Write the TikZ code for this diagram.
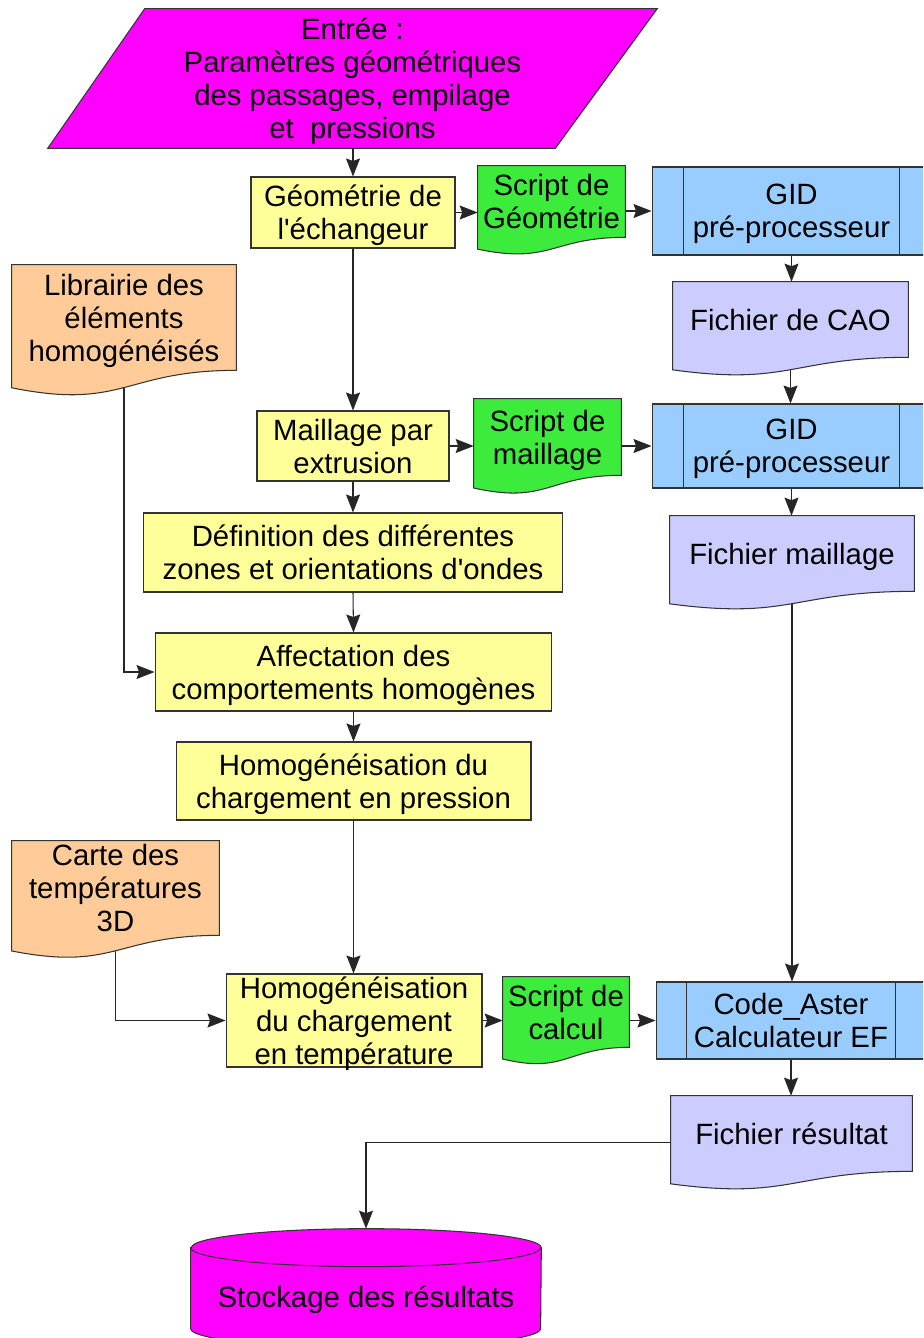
\documentclass[tikz,border=0pt]{standalone}
\usepackage{fontspec}
\setmainfont{Liberation Sans}
\usetikzlibrary{arrows.meta, calc, backgrounds}
\definecolor{inmagenta}{RGB}{255, 0, 255}
\definecolor{procyellow}{RGB}{255, 255, 153}
\definecolor{scriptgreen}{RGB}{61, 235, 61}
\definecolor{toolblue}{RGB}{153, 204, 255}
\definecolor{filelilac}{RGB}{204, 204, 255}
\definecolor{dataorange}{RGB}{255, 204, 153}

\tikzset{
  frame/.style={draw=black!80, line width=0.6pt},
  box/.style={align=center, inner sep=0pt},
  lowbox/.style={box, text depth=-2.4pt},
  proc/.style={frame, fill=procyellow, lowbox},
  doc/.style={lowbox},
  tool/.style={frame, fill=toolblue, lowbox},
  flow/.style={draw=black!85, line width=0.6pt, -{Stealth[length=3.6mm, width=2.8mm, inset=0.5mm]}},
}

\newcommand{\docframe}[2]{%
  \path[frame, fill=#2] let \p1=(#1.south west), \p2=(#1.north east), \n1={\y2-\y1} in
    (\x1,\y2) -- (\x2,\y2) -- (\x2,\y1)
    .. controls ({(\x1+\x2)/2},\y1) and ({(\x1+\x2)/2},{\y1-0.38*\n1}) ..
    coordinate[pos=0.5] (#1-b) (\x1,{\y1-0.165*\n1}) -- cycle;}
\newcommand{\sidelines}[2]{%
  \draw[frame] ([xshift=#2]#1.north west) -- ([xshift=#2]#1.south west)
    ([xshift=-#2]#1.north east) -- ([xshift=-#2]#1.south east);}

\begin{document}
\begin{tikzpicture}[x=0.02cm, y=-0.02cm, font=\fontsize{16.7}{18.8}\selectfont]
    \useasboundingbox (0,0) rectangle (923,1338);
    \clip (0,0) rectangle (923,1338);

    \node[doc, minimum width=12.18cm, minimum height=2.78cm] (entree) at (352.5,78.5)
        {Entrée :\\Paramètres géométriques\\des passages, empilage\\et~ pressions};

    \node[proc, minimum width=4.08cm, minimum height=1.42cm] (geo) at (353,212.5) {Géométrie de\\l\textquotesingle échangeur};
    \node[doc, minimum width=2.94cm, minimum height=1.42cm] (sgeo) at (551.5,201.5) {Script de\\Géométrie};
    \node[tool, minimum width=5.58cm, minimum height=1.76cm] (gid1) at (791.5,211) {GID\\pré-processeur};
    \node[doc, minimum width=4.70cm, minimum height=1.50cm] (cao) at (790.5,319.5) {Fichier de CAO};
    \node[doc, minimum width=4.48cm, minimum height=2.10cm] (lib) at (124,317.5) {Librairie des\\éléments\\homogénéisés};

    \node[proc, minimum width=3.84cm, minimum height=1.40cm] (mail) at (353,446) {Maillage par\\extrusion};
    \node[doc, minimum width=2.94cm, minimum height=1.52cm] (smail) at (547.5,437) {Script de\\maillage};
    \node[tool, minimum width=5.58cm, minimum height=1.68cm] (gid2) at (791.5,446) {GID\\pré-processeur};
    \node[doc, minimum width=4.88cm, minimum height=1.50cm] (mfile) at (792,553.5) {Fichier maillage};
    \node[proc, minimum width=8.40cm, minimum height=1.58cm] (def) at (353,552.5)
        {Définition des différentes\\zones et orientations d\textquotesingle ondes};
    \node[proc, minimum width=7.94cm, minimum height=1.56cm] (aff) at (353.5,672)
        {Affectation des\\comportements homogènes};
    \node[proc, minimum width=7.10cm, minimum height=1.56cm] (hpress) at (353.5,781)
        {Homogénéisation du\\chargement en pression};

    \node[doc, minimum width=4.14cm, minimum height=1.88cm] (carte) at (115.5,888) {Carte des\\températures\\3D};
    \node[proc, minimum width=5.12cm, minimum height=1.86cm] (htemp) at (354,1020.5)
        {Homogénéisation\\du chargement\\en température};
    \node[doc, minimum width=2.52cm, minimum height=1.40cm] (scalc) at (566,1012) {Script de\\calcul};
    \node[tool, minimum width=5.40cm, minimum height=1.54cm] (aster) at (791,1020.5) {Code\_Aster\\Calculateur EF};
    \node[doc, minimum width=4.82cm, minimum height=1.50cm] (result) at (791.5,1133.5) {Fichier résultat};
    \node[doc, minimum width=7.00cm, minimum height=2.72cm] (store) at (366,1297) {Stockage des résultats};

    \sidelines{gid1}{0.64cm}
    \sidelines{gid2}{0.64cm}
    \sidelines{aster}{0.62cm}

    \begin{scope}[on background layer]
      \path[frame, fill=inmagenta] ([xshift=1.94cm]entree.north west) -- (entree.north east)
          -- ([xshift=-2.04cm]entree.south east) -- (entree.south west) -- cycle;
      \docframe{sgeo}{scriptgreen}
      \docframe{smail}{scriptgreen}
      \docframe{scalc}{scriptgreen}
      \docframe{cao}{filelilac}
      \docframe{mfile}{filelilac}
      \docframe{result}{filelilac}
      \docframe{lib}{dataorange}
      \docframe{carte}{dataorange}
      \path[frame, fill=inmagenta] ([yshift=-0.38cm]store.north west) -- ([yshift=-2.0cm]store.north west)
          arc[start angle=180, end angle=360, x radius=3.5cm, y radius=0.38cm]
          -- ([yshift=-0.38cm]store.north east)
          arc[start angle=0, end angle=180, x radius=3.5cm, y radius=0.38cm] -- cycle;
      \draw[frame] ([yshift=-0.38cm]store.north west)
          arc[start angle=180, end angle=360, x radius=3.5cm, y radius=0.38cm];
    \end{scope}

    \draw[flow] (entree.south -| geo.north) -- (geo.north);
    \draw[flow] (geo.east) -- (geo.east -| sgeo.west);
    \draw[flow] (sgeo.east |- gid1) -- (gid1.west);
    \draw[flow] (gid1.south) -- (gid1.south |- cao.north);
    \draw[flow] (geo.south) -- (mail.north);
    \draw[flow] (cao-b) -- (cao-b |- gid2.north);
    \draw[flow] (mail.east) -- (mail.east -| smail.west);
    \draw[flow] (smail.east |- gid2) -- (gid2.west);
    \draw[flow] (gid2.south) -- (gid2.south |- mfile.north);
    \draw[flow] (mail.south) -- (def.north);
    \draw[flow] (def.south) -- (aff.north);
    \draw[flow] (lib-b) |- (aff.west);
    \draw[flow] (aff.south) -- (hpress.north);
    \draw[flow] (hpress.south) -- (hpress.south |- htemp.north);
    \draw[flow] (mfile-b) -- (mfile-b |- aster.north);
    \draw[flow] (carte-b) |- (htemp.west);
    \draw[flow] (htemp.east) -- (htemp.east -| scalc.west);
    \draw[flow] (scalc.east |- aster) -- (aster.west);
    \draw[flow] (aster.south) -- (aster.south |- result.north);
    \draw[flow] ([yshift=-0.18cm]result.west) -| (store.north);
\end{tikzpicture}
\end{document}
